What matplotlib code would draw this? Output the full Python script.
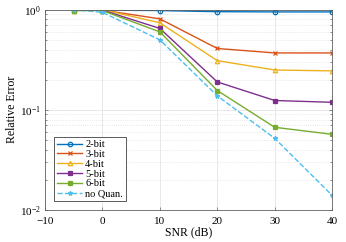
import matplotlib
matplotlib.use('Agg')
import matplotlib.pyplot as plt
from matplotlib.ticker import LogLocator, NullFormatter

# data
snr = [-5, 0, 10, 20, 30, 40]
err_2bit = [1.0, 0.99, 0.98, 0.955, 0.95, 0.95]
err_3bit = [1.0, 0.99, 0.81, 0.41, 0.37, 0.37]
err_4bit = [0.98, 1.0, 0.74, 0.31, 0.25, 0.245]
err_5bit = [0.99, 0.99, 0.65, 0.19, 0.124, 0.119]
err_6bit = [0.98, 0.98, 0.60, 0.156, 0.067, 0.057]
err_noquan = [1.0, 0.94, 0.50, 0.138, 0.052, 0.014]

plt.rcParams['font.family'] = ['Liberation Serif', 'DejaVu Serif']
plt.rcParams['mathtext.fontset'] = 'stix'

fig = plt.figure(figsize=(3.46, 2.42), dpi=100)
ax = fig.add_axes([0.130, 0.132, 0.830, 0.828])

series = [
    ('2-bit', err_2bit, '#0072BD', 'o', '-'),
    ('3-bit', err_3bit, '#D95319', 'x', '-'),
    ('4-bit', err_4bit, '#EDB120', '^', '-'),
    ('5-bit', err_5bit, '#7E2F8E', 's', '-'),
    ('6-bit', err_6bit, '#77AC30', 's', '-'),
    ('no Quan.', err_noquan, '#4DBEEE', '*', '--'),
]
for label, vals, color, mk, ls in series:
    mfc = 'none' if mk in ('o', '^') else color
    ax.plot(snr, vals, color=color, marker=mk, linestyle=ls, linewidth=1.0,
            markersize=3.2, markerfacecolor=mfc, markeredgewidth=0.9, label=label)

ax.set_yscale('log')
ax.set_xlim(-10, 40)
ax.set_ylim(1e-2, 1)
ax.set_xticks([-10, 0, 10, 20, 30, 40])
ax.yaxis.set_major_locator(LogLocator(base=10, numticks=5))
ax.yaxis.set_minor_locator(LogLocator(base=10, subs=range(2, 10), numticks=20))
ax.yaxis.set_minor_formatter(NullFormatter())

ax.grid(True, which='major', color='#e4e4e4', linewidth=0.6)
ax.grid(True, which='minor', axis='y', color='#e0e0e0', linestyle=':', linewidth=0.6)
ax.set_axisbelow(True)

ax.tick_params(which='both', direction='in', top=True, right=True, labelsize=8,
               color='#606060', length=2.5, width=0.5)
ax.tick_params(axis='x', pad=5)
ax.tick_params(axis='y', pad=3)
ax.tick_params(which='minor', length=1.5)
for lbl in ax.get_yticklabels():
    lbl.set_verticalalignment('center_baseline')
for sp in ax.spines.values():
    sp.set_color('#606060')
    sp.set_linewidth(0.6)

ax.set_xlabel('SNR (dB)', fontsize=8.5, labelpad=0)
ax.set_ylabel('Relative Error', fontsize=8.5, labelpad=1)

leg = ax.legend(loc='lower left', fontsize=7.5, frameon=True, fancybox=False,
                edgecolor='#404040', framealpha=1, borderpad=0.25, labelspacing=0.05,
                handlelength=2.4, handletextpad=0.3, bbox_to_anchor=(0.015, 0.02))
leg.get_frame().set_linewidth(0.6)

fig.savefig('out.png', dpi=100)
